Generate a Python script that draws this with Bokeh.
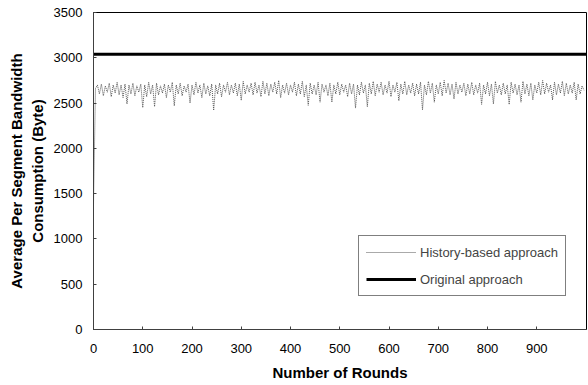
from bokeh.plotting import figure
from bokeh.models import Range1d, Legend, LegendItem, FixedTicker
from bokeh.embed import file_html
from bokeh.resources import INLINE

# ---- data ----
round_step = 4
history_values = [
    1380, 2660, 2700, 2600, 2710, 2580, 2690, 2620, 2720, 2570,
    2700, 2610, 2730, 2590, 2700, 2560, 2710, 2490, 2700, 2600,
    2720, 2580, 2690, 2620, 2710, 2450, 2700, 2570, 2730, 2600,
    2700, 2460, 2720, 2590, 2690, 2610, 2710, 2560, 2700, 2620,
    2730, 2470, 2700, 2600, 2720, 2580, 2690, 2620, 2710, 2500,
    2700, 2590, 2730, 2610, 2700, 2560, 2720, 2600, 2690, 2580,
    2710, 2420, 2700, 2600, 2720, 2570, 2700, 2620, 2730, 2590,
    2700, 2610, 2720, 2580, 2710, 2530, 2740, 2600, 2700, 2620,
    2720, 2590, 2730, 2610, 2700, 2570, 2740, 2600, 2720, 2580,
    2710, 2620, 2730, 2600, 2750, 2560, 2700, 2610, 2720, 2590,
    2700, 2620, 2730, 2580, 2710, 2600, 2740, 2570, 2700, 2475,
    2720, 2600, 2700, 2590, 2730, 2510, 2710, 2620, 2700, 2580,
    2720, 2510, 2700, 2600, 2730, 2590, 2710, 2620, 2700, 2570,
    2720, 2600, 2710, 2445, 2700, 2590, 2730, 2610, 2700, 2460,
    2720, 2600, 2740, 2580, 2710, 2620, 2730, 2590, 2700, 2610,
    2740, 2570, 2700, 2620, 2730, 2525, 2710, 2600, 2740, 2590,
    2700, 2610, 2720, 2580, 2710, 2600, 2730, 2425, 2700, 2590,
    2740, 2610, 2720, 2510, 2700, 2600, 2730, 2580, 2750, 2610,
    2720, 2590, 2710, 2545, 2730, 2600, 2700, 2620, 2720, 2580,
    2710, 2600, 2730, 2590, 2700, 2610, 2720, 2485, 2700, 2600,
    2730, 2580, 2710, 2490, 2740, 2610, 2700, 2590, 2720, 2600,
    2700, 2485, 2730, 2610, 2710, 2590, 2700, 2510, 2740, 2600,
    2710, 2580, 2720, 2535, 2700, 2610, 2730, 2590, 2750, 2600,
    2720, 2620, 2700, 2535, 2730, 2590, 2710, 2610, 2740, 2580,
    2720, 2600, 2700, 2610, 2730, 2535, 2710, 2600, 2690, 2640,
]
history_rounds = [i * round_step for i in range(len(history_values))]

original_rounds = [0, 1000]
original_values = [3040, 3040]

x_ticks = [0, 100, 200, 300, 400, 500, 600, 700, 800, 900]
y_ticks = [0, 500, 1000, 1500, 2000, 2500, 3000, 3500]

p = figure(width=587, height=385, output_backend="svg", toolbar_location=None,
           x_range=Range1d(0, 1001), y_range=Range1d(0, 3500),
           min_border_left=93, min_border_right=1, min_border_top=12, min_border_bottom=56)
p.background_fill_color = "white"
p.border_fill_color = "white"
p.outline_line_color = "black"
p.outline_line_width = 1
p.xgrid.visible = False
p.ygrid.visible = False

r_hist = p.line(history_rounds, history_values, line_color="#555555", line_width=1,
                line_dash="1 1")
r_orig = p.line(original_rounds, original_values, line_color="black", line_width=3)

font = "Liberation Sans"
for ax in (p.xaxis[0], p.yaxis[0]):
    ax.axis_line_color = "#404040"
    ax.major_tick_in = 3
    ax.major_tick_out = 0
    ax.minor_tick_line_color = None
    ax.major_tick_line_color = "#404040"
    ax.major_label_text_font = font
    ax.major_label_text_font_size = "13px"
    ax.major_label_text_color = "black"
    ax.axis_label_text_font = font
    ax.axis_label_text_font_size = "15px"
    ax.axis_label_text_font_style = "bold"
    ax.axis_label_text_color = "black"

p.xaxis[0].ticker = FixedTicker(ticks=x_ticks)
p.yaxis[0].ticker = FixedTicker(ticks=y_ticks)
p.xaxis[0].major_label_standoff = 14
p.yaxis[0].major_label_standoff = 11
p.xaxis[0].axis_label = "Number of Rounds"
p.xaxis[0].axis_label_standoff = 8
p.yaxis[0].axis_label = "Average Per Segment Bandwidth\nConsumption (Byte)"
p.yaxis[0].axis_label_standoff = 5

legend = Legend(items=[LegendItem(label="History-based approach", renderers=[r_hist]),
                       LegendItem(label="Original approach", renderers=[r_orig])],
                location=(265, 33))
legend.border_line_color = "black"
legend.border_line_width = 1
legend.background_fill_color = "white"
legend.background_fill_alpha = 1
legend.label_text_font = font
legend.label_text_font_size = "13px"
legend.glyph_width = 50
legend.label_standoff = 4
legend.padding = 7
legend.spacing = 9
legend.label_height = 18
legend.glyph_height = 18
legend.margin = 0
p.add_layout(legend)

open("out.html", "w").write(file_html(p, INLINE))
